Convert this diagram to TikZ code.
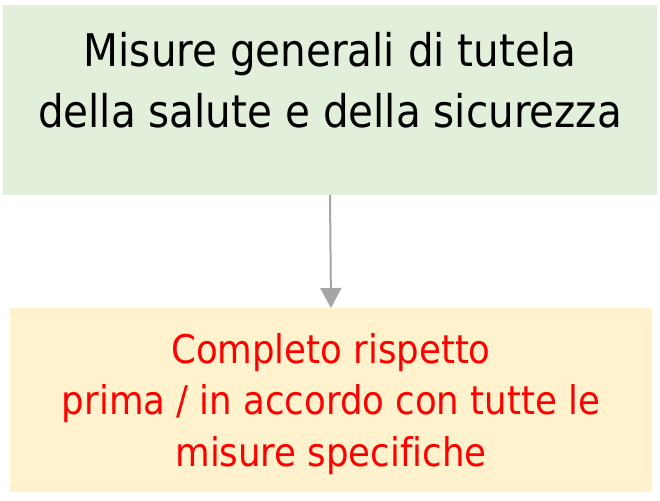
\documentclass[tikz,border=0pt]{standalone}
\usepackage{fontspec}
\setmainfont[Ligatures=NoCommon]{DejaVu Sans Condensed}
\usepackage{tikz}
\usetikzlibrary{arrows.meta}

\definecolor{boxgreen}{RGB}{226,239,218}
\definecolor{boxyellow}{RGB}{255,242,204}
\definecolor{arrowgray}{RGB}{165,165,165}

\begin{document}
\begin{tikzpicture}[x=1pt,y=1pt,yscale=-1,xscale=1,
    box/.style={draw=none,inner sep=0pt,outer sep=0pt},
    label/.style={inner sep=0pt,align=center,anchor=north}]
        \useasboundingbox (0,0) rectangle (660,500);

        %Shape: Rectangle [id:top]
        \node [box,fill=boxgreen,minimum width=654pt,minimum height=190pt] (measures) at (330,100) {};
        %Shape: Rectangle [id:bottom]
        \node [box,fill=boxyellow,minimum width=642pt,minimum height=184pt] (respect) at (331,400) {};

        %Straight Lines [id:arrow]
        \draw [color=arrowgray,line width=2pt,-{Triangle[width=21pt,length=20pt]}] (measures.south) -- (respect.north) ;

        % Text Node
        \node [label,font=\fontsize{45}{61}\selectfont] (measurestext) at (330,32) {Misure generali di tutela\\della salute e della sicurezza};
        % Text Node
        \node [label,font=\fontsize{39.5}{51.5}\selectfont,text=red] (respecttext) at (331,333) {Completo rispetto\\prima / in accordo con tutte le\\misure specifiche};

    \end{tikzpicture}
\end{document}
